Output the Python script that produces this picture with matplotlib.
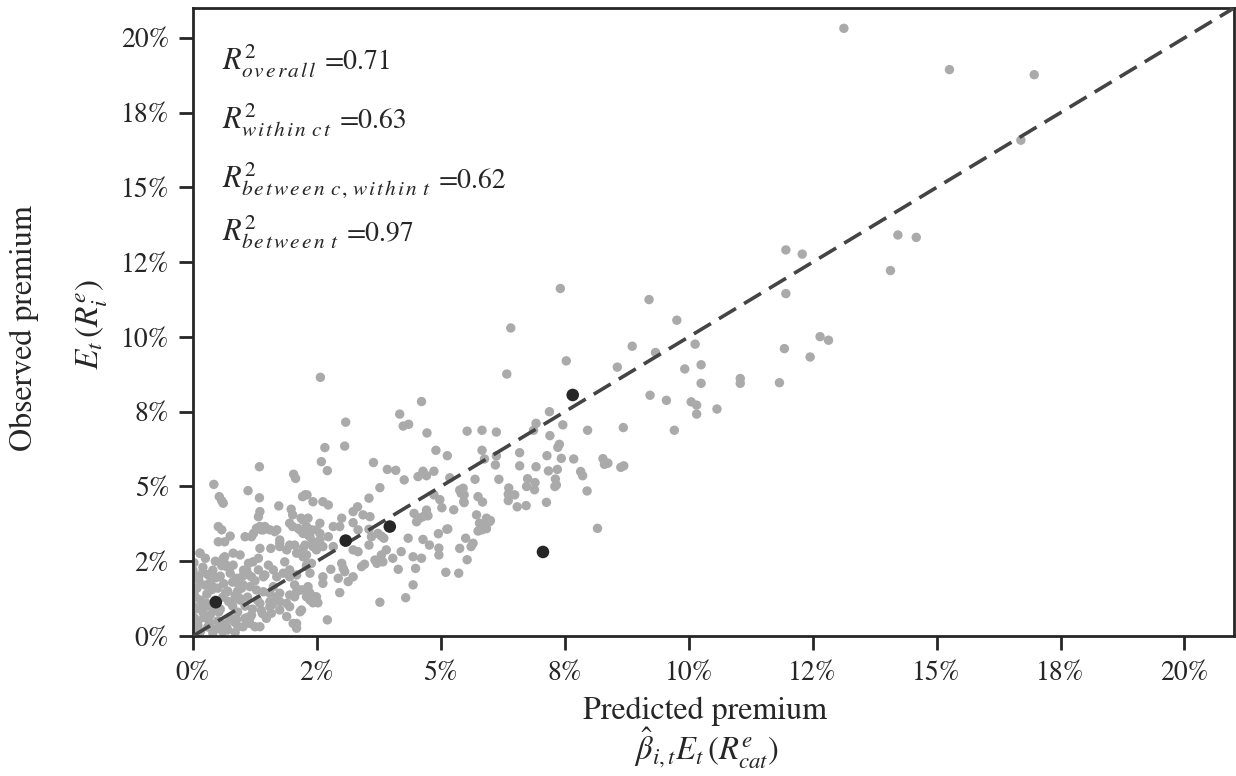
import matplotlib
matplotlib.use("Agg")
import matplotlib.pyplot as plt
from matplotlib.ticker import MultipleLocator, PercentFormatter

plt.rcParams['font.family'] = ['STIXGeneral', 'DejaVu Serif']
plt.rcParams['mathtext.fontset'] = 'stix'

# Grey points: (predicted premium %, observed premium %)
grey_x = [
    13.13, 15.26, 16.97, 16.70, 14.22, 14.59, 14.07, 12.29, 11.96, 11.96, 11.93, 12.45, 12.65, 12.82,
    11.83, 11.04, 11.04, 10.57, 10.25, 10.25, 10.13, 9.92, 10.16, 10.05, 10.16, 9.71, 9.76, 9.20,
    9.33, 8.86, 8.56, 9.22, 9.55, 8.68, 8.63, 8.69, 8.27, 8.30, 8.37, 8.16, 7.41, 7.53, 6.41, 6.33,
    7.19, 7.46, 7.96, 6.92, 6.87, 7.20, 7.39, 7.36, 7.43, 7.14, 7.68, 7.35, 7.17, 6.92, 6.59, 6.59,
    6.12, 6.10, 5.83, 5.53, 6.12, 5.83, 5.88, 5.13, 4.90, 4.72, 4.61, 4.86, 4.64, 4.71, 5.18, 5.69,
    6.17, 6.75, 6.90, 6.73, 6.89, 6.37, 6.36, 6.49, 6.36, 7.31, 7.33, 7.30, 7.13, 7.82, 7.86, 7.95,
    6.54, 6.72, 5.45, 5.41, 5.47, 5.75, 5.84, 4.98, 5.02, 5.26, 4.71, 4.64, 4.74, 5.72, 5.92, 5.98,
    5.88, 5.92, 5.75, 5.14, 4.95, 4.64, 4.77, 4.96, 4.96, 4.61, 5.38, 5.61, 5.65, 5.50, 5.53, 5.10,
    5.36, 6.00,
    2.57, 3.08, 4.17, 4.24, 4.35, 2.66, 3.06, 2.59, 2.71, 3.64, 3.92, 4.09, 4.26, 4.54, 3.77, 3.55,
    2.26, 2.42, 2.62, 2.73, 5.38, 5.47, 5.46, 4.86, 4.46, 4.57, 4.51, 3.23, 3.32, 3.43, 3.57, 3.00,
    2.96, 2.83, 3.23, 3.33, 3.55, 3.60, 3.73, 3.80, 3.85, 3.55, 3.23, 3.33, 4.34, 5.12, 3.90, 3.80,
    3.67, 3.71, 3.83, 4.03, 4.20, 4.44, 4.14, 4.49, 5.88, 5.78, 5.83, 4.44, 4.29, 3.77, 2.71, 2.83,
    3.00, 3.03, 3.23, 3.13, 3.40, 3.46, 2.93, 2.78, 3.06, 2.62, 2.62, 2.96, 2.36, 2.46, 2.42, 2.52,
    2.29, 2.19,
    2.22, 2.29, 2.22, 2.36, 2.49, 2.56, 2.56, 2.26, 2.42, 2.22, 2.39, 2.36, 2.29, 2.56, 2.73, 2.49,
    2.62,
    1.34, 2.03, 2.07, 0.42, 1.11, 1.34, 0.53, 0.58, 0.61, 1.73, 2.21, 2.30, 1.98, 2.01, 1.35, 1.32,
    0.51, 0.58, 0.75, 0.64, 0.51, 1.05, 1.18, 1.22, 1.35, 1.45, 1.38, 1.55, 1.69, 1.75, 2.01, 2.16,
    2.18, 2.32, 2.39, 2.46, 1.35, 1.57, 1.75, 1.89, 2.05, 2.16, 2.29, 0.61, 0.81, 0.95, 1.12, 0.81,
    0.68, 1.08, 1.18, 1.32, 1.52, 1.62, 1.42, 1.69, 1.82, 1.95, 1.95, 2.05, 2.16, 2.05, 1.75, 1.62,
    2.32, 2.49, 1.35, 1.55, 1.75, 1.89, 2.16, 2.02, 2.09, 1.35, 0.91, 1.18, 1.05,
    1.28, 1.42, 1.65, 1.95, 2.12, 2.32, 1.75, 1.95, 2.22, 2.42, 0.14, 0.64, 1.21, 1.85, 2.09, 2.26,
    2.29, 2.09, 1.45, 0.75, 0.88, 1.01, 1.15, 1.28, 1.42, 1.55, 1.69, 1.95, 2.09, 2.22, 2.32, 2.36,
    1.95, 1.75, 1.58, 1.48, 1.25, 1.15, 1.01, 1.55, 1.89, 2.09,
    0.05, 0.10, 0.05, 0.15, 0.08, 0.12, 0.20, 0.30, 0.35, 0.30, 0.28, 0.35, 0.40, 0.50, 0.55, 0.60,
    0.50, 0.55, 0.65, 0.70, 0.75, 0.80, 0.70, 0.80, 0.90, 0.95, 0.90, 1.00, 0.20, 0.25, 0.45, 0.65,
    0.15, 0.40, 0.60, 0.85, 1.05, 1.10, 0.00, 0.02, 0.03, 0.00, 0.25, 0.45, 0.38, 0.62, 0.72, 0.85,
    0.18, 0.42, 1.20, 1.30, 1.40, 0.07, 0.34, 0.58, 0.81, 0.14,
    0.10, 0.22, 0.33, 0.48, 0.68, 0.88, 0.05, 0.27, 0.52, 0.78, 0.98, 0.12, 0.40, 0.66, 0.92, 1.12,
    0.02, 0.20, 0.47, 0.73, 1.02, 1.25, 0.30, 0.58, 0.85, 1.15, 1.38, 1.60, 1.10, 1.32, 0.95, 0.10,
]
grey_y = [
    20.32, 18.94, 18.77, 16.58, 13.41, 13.33, 12.22, 12.77, 12.91, 11.45, 9.61, 9.33, 10.01, 9.89,
    8.47, 8.61, 8.45, 7.59, 9.07, 8.45, 9.76, 8.93, 7.42, 7.83, 7.72, 6.88, 10.56, 11.25,
    9.48, 9.69, 8.99, 8.05, 7.88, 6.97, 5.64, 5.69, 5.93, 5.74, 5.78, 3.60, 11.62, 9.20, 10.30, 8.76,
    7.50, 7.06, 6.88, 7.11, 6.88, 6.70, 6.41, 6.31, 5.94, 6.03, 5.92, 5.57, 5.52, 5.66, 6.13, 5.69,
    6.02, 5.72, 6.88, 6.85, 6.82, 6.21, 5.92, 6.03, 6.21, 6.79, 7.84, 5.51, 5.51, 5.36, 5.29, 5.24,
    5.24, 5.26, 5.13, 5.00, 4.89, 4.95, 4.74, 4.72, 4.53, 5.25, 5.05, 5.00, 4.47, 5.50, 5.36, 4.85,
    4.32, 4.36, 4.94, 4.77, 4.46, 4.66, 4.48, 4.56, 4.29, 4.22, 4.21, 3.99, 4.02, 4.05, 3.94, 3.82,
    3.75, 3.59, 3.51, 3.58, 3.42, 3.23, 3.04, 2.94, 2.71, 2.60, 2.93, 2.99, 3.10, 3.27, 2.55, 2.13,
    2.10, 3.86,
    8.65, 7.15, 7.42, 7.02, 7.08, 6.30, 6.35, 5.83, 5.53, 5.80, 5.57, 5.54, 5.22, 5.33, 4.96, 4.61,
    4.72, 4.49, 4.49, 4.38, 4.88, 4.72, 4.49, 4.72, 4.10, 3.94, 3.82, 4.16, 4.32, 4.05, 3.99, 3.94,
    3.66, 3.66, 3.79, 3.55, 3.57, 3.32, 3.43, 3.34, 3.27, 3.04, 2.88, 2.82, 3.27, 3.57, 2.88, 2.71,
    2.54, 2.43, 2.48, 2.60, 2.82, 2.65, 2.23, 2.26, 3.66, 3.77, 3.55, 1.71, 1.28, 1.13, 0.54, 2.99,
    2.43, 2.26, 1.98, 1.82, 2.32, 2.40, 1.93, 2.23, 2.15, 1.98, 1.76, 1.45, 1.43, 1.31, 1.11, 1.11,
    1.31, 0.87,
    3.88, 3.66, 3.43, 3.32, 3.55, 3.43, 3.21, 3.04, 2.99, 2.65, 2.43, 2.10, 2.32, 3.77, 3.32, 2.88,
    2.99,
    5.66, 5.41, 5.27, 5.07, 4.86, 4.62, 4.66, 4.52, 4.44, 4.35, 4.66, 4.72, 4.24, 4.05, 4.16, 3.99,
    3.66, 3.55, 3.34, 3.15, 3.15, 3.32, 3.32, 3.43, 3.66, 3.66, 3.55, 3.55, 3.55, 3.21, 3.66, 3.55,
    3.94, 3.94, 3.55, 3.10, 2.93, 2.93, 2.99, 2.88, 3.04, 2.77, 2.71, 2.60, 2.77, 2.71, 2.43, 2.37,
    2.32, 2.21, 1.98, 2.21, 2.37, 2.21, 1.98, 1.98, 2.10, 2.21, 1.98, 1.71, 1.54, 1.31, 1.43, 1.65,
    1.54, 1.31, 1.09, 1.15, 1.15, 1.09, 0.81, 0.42, 0.42, 0.31, 0.31, 0.70, 0.59,
    3.60, 3.55, 3.49, 3.77, 3.60, 3.38, 3.10, 3.04, 2.93, 3.15, 2.77, 2.65, 2.48, 2.48, 2.77, 2.65,
    2.37, 2.04, 2.04, 2.10, 1.93, 1.71, 1.65, 1.54, 1.48, 1.43, 1.31, 1.37, 1.48, 1.54, 1.65, 1.20,
    0.98, 0.87, 0.76, 0.59, 0.31, 0.42, 0.31, 0.98, 0.65, 0.26,
    0.20, 0.50, 0.90, 1.20, 1.60, 2.00, 2.30, 0.30, 0.70, 1.00, 1.40, 1.80, 2.20, 0.50, 0.90, 1.30,
    1.60, 2.00, 2.40, 0.20, 0.60, 1.00, 1.50, 1.80, 0.80, 1.20, 1.50, 2.00, 0.80, 1.70, 1.20, 0.40,
    0.15, 0.10, 0.15, 0.45, 1.00, 1.30, 1.00, 1.40, 0.60, 2.20, 2.60, 2.50, 1.55, 1.75, 1.15, 1.35,
    1.05, 0.85, 0.90, 1.20, 0.75, 0.14, 0.31, 0.31, 0.54, 2.77,
    0.35, 0.62, 0.45, 0.25, 0.30, 0.55, 1.30, 1.10, 0.80, 1.12, 1.60, 1.85, 1.65, 1.45, 1.75, 2.05,
    2.45, 2.15, 1.95, 2.30, 2.20, 1.85, 2.05, 2.35, 0.12, 0.62, 0.85, 1.05, 0.62, 2.60, 1.25, 1.90,
]

# Highlighted (black) points
black_x = [0.46, 3.08, 3.97, 7.06, 7.66]
black_y = [1.13, 3.19, 3.66, 2.81, 8.06]

r2_subscripts = ['overall', 'within ct', 'between c,within t', 'between t']
r2_values = [0.71, 0.63, 0.62, 0.97]

W, H = 1236, 776
fig = plt.figure(figsize=(W / 100, H / 100), dpi=100)
ax = fig.add_axes([193 / W, 1 - 636 / H, (1234 - 193) / W, (636 - 8) / H])

ax.scatter(grey_x, grey_y, s=46, color='#aaaaaa', edgecolors='none', zorder=2)
ax.axline((0, 0), slope=1, color='#444444', lw=2.6, ls=(0, (5.5, 2.6)), zorder=3)
ax.scatter(black_x, black_y, s=82, color='#262626', edgecolors='none', zorder=4)

ax.set_xlim(0, 21)
ax.set_ylim(0, 21)
for axis in (ax.xaxis, ax.yaxis):
    axis.set_major_locator(MultipleLocator(2.5))
    axis.set_major_formatter(PercentFormatter(xmax=100, decimals=0))

for sp in ax.spines.values():
    sp.set_linewidth(2.0)
    sp.set_color('#262626')
ax.tick_params(direction='out', length=10, width=2, color='#262626',
               labelsize=20, labelcolor='#262626')
ax.tick_params(axis='y', pad=7)
ax.tick_params(axis='x', pad=8)

tc = '#262626'
# x label (two lines)
fig.text(705 / W, 1 - 719 / H, 'Predicted premium', fontsize=23, color=tc,
         ha='center', va='baseline')
fig.text(706 / W, 1 - 760 / H, r'$\hat{\beta}_{i,t}E_t\,\left(R^e_{cat}\right)$',
         fontsize=23.5, color=tc, ha='center', va='baseline')
# y label (two lines)
fig.text(32 / W, 1 - 328 / H, 'Observed premium', fontsize=23, color=tc,
         rotation=90, rotation_mode='anchor', ha='center', va='baseline')
fig.text(98 / W, 1 - 325 / H, r'$E_t\,\left(R_i^e\right)$', fontsize=24, color=tc,
         rotation=90, rotation_mode='anchor', ha='center', va='baseline')


def spaced(phrase):
    words = phrase.split(' ')
    return r'\hspace{0.4}'.join(r'\hspace{0.14}'.join(w) for w in words)


baselines = [69, 128, 188, 240]
fig.canvas.draw()
renderer = fig.canvas.get_renderer()
for sub, val, yb in zip(r2_subscripts, r2_values, baselines):
    t = fig.text(222 / W, 1 - yb / H, r'$R^2_{' + spaced(sub) + '}$', fontsize=22,
                 color=tc, ha='left', va='baseline')
    bb = t.get_window_extent(renderer)
    fig.text((bb.x1 + 8) / W, 1 - yb / H, f'={val:.2f}', fontsize=20, color=tc,
             ha='left', va='baseline')

fig.savefig('out.png', dpi=100)
